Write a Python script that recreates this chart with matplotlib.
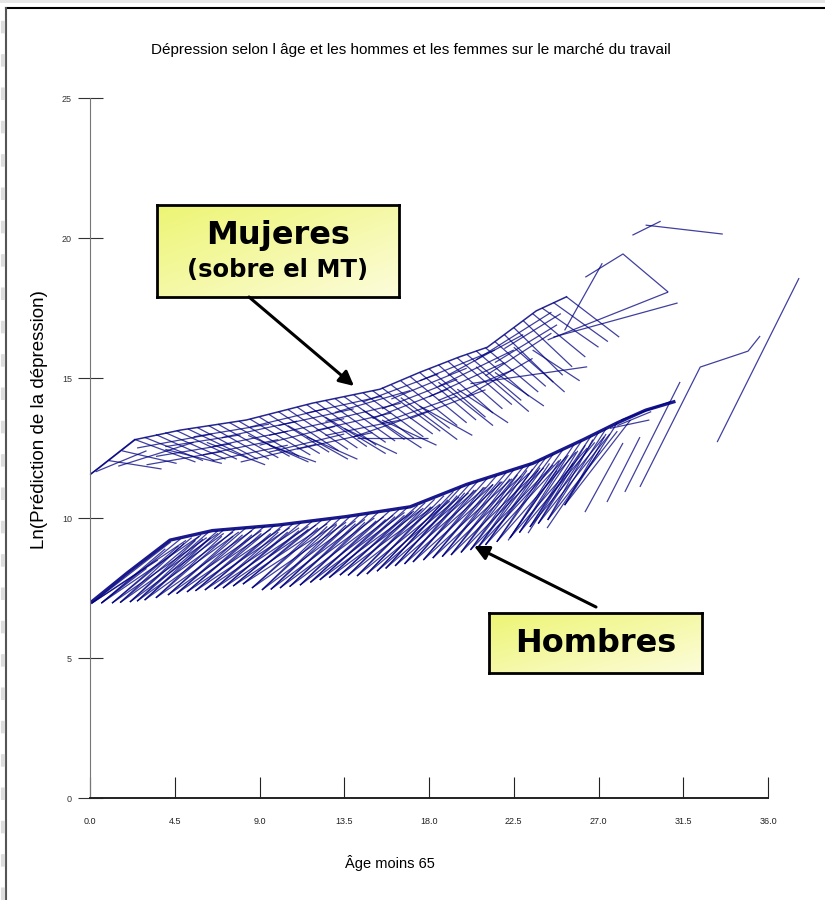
import numpy as np
import matplotlib
matplotlib.use('Agg')
import matplotlib.pyplot as plt
from matplotlib.lines import Line2D
from matplotlib.patches import FancyArrowPatch, Rectangle

# axis ticks
x_ticks = [0.0, 4.5, 9.0, 13.5, 18.0, 22.5, 27.0, 31.5, 36.0]
y_ticks = [0, 5, 10, 15, 20, 25]

# Hombres: segments from a low point up to the upper envelope
h_age0 = [0.1, 0.1, 0.1, 1.17, 1.17, 1.17, 2.12, 2.12, 2.12, 2.9, 2.9, 2.9,
          4.14, 4.14, 4.14, 5.15, 5.15, 5.15, 6.1, 6.1, 6.1, 7.06, 7.06, 7.06,
          8.12, 8.12, 8.12, 9.13, 9.13, 9.13, 10.09, 10.09, 10.09, 11.15, 11.15, 11.15,
          12.2, 12.2, 12.2, 13.27, 13.27, 13.27, 14.18, 14.18, 14.18, 15.24, 15.24, 15.24,
          16.2, 16.2, 16.2, 17.15, 17.15, 17.15, 18.2, 18.2, 18.2, 19.17, 19.17, 19.17,
          20.2, 20.2, 20.2, 21.0, 21.0, 21.0, 22.3, 22.3, 22.3, 23.36, 23.36, 23.36,
          24.3, 24.3, 24.3, 25.2, 25.2, 25.2,
          26.28, 27.45, 28.4, 24.27, 23.26, 22.2, 28.2, 28.0, 27.6,
          0.6, 0.6, 0.6, 0.6, 1.6, 1.6, 1.6, 2.5, 2.5, 2.5, 3.5, 3.5, 3.5,
          4.6, 4.6, 4.6, 5.6, 5.6, 5.6, 6.6, 6.6, 6.6, 7.6, 7.6, 7.6,
          8.6, 8.6, 8.6, 9.6, 9.6, 9.6, 10.6, 10.6, 10.6, 11.7, 11.7, 11.7,
          12.7, 12.7, 12.7, 13.7, 13.7, 13.7, 14.7, 14.7, 14.7, 15.7, 15.7, 15.7,
          16.7, 16.7, 16.7, 17.7, 17.7, 17.7, 18.7, 18.7, 18.7, 19.7, 19.7, 19.7,
          20.6, 20.6, 20.6, 21.6, 21.6, 21.6, 22.8, 22.8, 22.8, 23.8, 23.8, 23.8]
h_dep0 = [6.96, 6.96, 6.96, 6.96, 6.96, 6.96, 7.0, 7.0, 7.0, 7.07, 7.07, 7.07,
          7.25, 7.25, 7.25, 7.36, 7.36, 7.36, 7.43, 7.43, 7.43, 7.5, 7.5, 7.5,
          7.64, 7.64, 7.64, 7.43, 7.43, 7.43, 7.5, 7.5, 7.5, 7.6, 7.6, 7.6,
          7.79, 7.79, 7.79, 7.96, 7.96, 7.96, 7.93, 7.93, 7.93, 8.1, 8.1, 8.1,
          8.29, 8.29, 8.29, 8.43, 8.43, 8.43, 8.57, 8.57, 8.57, 8.68, 8.68, 8.68,
          8.86, 8.86, 8.86, 9.04, 9.04, 9.04, 9.29, 9.29, 9.29, 9.68, 9.68, 9.68,
          9.93, 9.93, 9.93, 10.46, 10.46, 10.46,
          10.21, 10.57, 10.93, 9.64, 9.46, 9.2, 13.5, 13.3, 13.2,
          6.96, 6.96, 6.96, 6.96, 6.98, 6.98, 6.98, 7.03, 7.03, 7.03, 7.15, 7.15, 7.15,
          7.3, 7.3, 7.3, 7.4, 7.4, 7.4, 7.47, 7.47, 7.47, 7.57, 7.57, 7.57,
          7.5, 7.5, 7.5, 7.45, 7.45, 7.45, 7.55, 7.55, 7.55, 7.7, 7.7, 7.7,
          7.87, 7.87, 7.87, 7.95, 7.95, 7.95, 8.0, 8.0, 8.0, 8.2, 8.2, 8.2,
          8.36, 8.36, 8.36, 8.5, 8.5, 8.5, 8.62, 8.62, 8.62, 8.77, 8.77, 8.77,
          8.95, 8.95, 8.95, 9.15, 9.15, 9.15, 9.48, 9.48, 9.48, 9.8, 9.8, 9.8]
h_age1 = [3.6, 4.3, 5.1, 4.7, 5.4, 6.2, 5.6, 6.3, 7.1, 6.4, 7.1, 7.9,
          7.6, 8.3, 9.1, 8.6, 9.3, 10.1, 9.6, 10.3, 11.1, 10.5, 11.2, 12.0,
          11.6, 12.3, 13.1, 12.6, 13.3, 14.1, 13.6, 14.3, 15.1, 14.6, 15.3, 16.1,
          15.7, 16.4, 17.2, 16.7, 17.4, 18.2, 17.6, 18.3, 19.1, 18.6, 19.3, 20.1,
          19.5, 20.2, 21.0, 20.4, 21.1, 21.9, 21.4, 22.1, 22.9, 22.3, 23.0, 23.8,
          23.2, 23.9, 24.6, 23.9, 24.6, 25.3, 25.0, 25.7, 26.4, 25.9, 26.6, 27.3,
          26.7, 27.4, 28.0, 27.4, 28.0, 28.7,
          28.3, 29.2, 31.33, 27.08, 25.65, 24.8, 30.8, 29.8, 29.7,
          4.0, 4.8, 5.8, 3.0, 5.0, 5.9, 6.8, 6.0, 6.8, 7.6, 7.0, 7.7, 8.6,
          8.1, 8.8, 9.6, 9.1, 9.8, 10.6, 10.0, 10.8, 11.6, 11.1, 11.8, 12.6,
          12.1, 12.8, 13.6, 13.1, 13.8, 14.6, 14.1, 14.8, 15.6, 15.2, 15.9, 16.7,
          16.2, 16.9, 17.7, 17.1, 17.8, 18.6, 18.1, 18.8, 19.6, 19.0, 19.7, 20.5,
          19.9, 20.6, 21.4, 20.9, 21.6, 22.4, 21.8, 22.5, 23.3, 22.7, 23.4, 24.1,
          23.5, 24.2, 24.9, 24.4, 25.1, 25.8, 25.4, 26.1, 26.8, 26.3, 27.0, 27.6]
h_dep1 = [8.5, 9.15, 9.2, 9.0, 9.3, 9.3, 9.2, 9.5, 9.45, 9.3, 9.58, 9.5,
          9.35, 9.66, 9.55, 9.4, 9.72, 9.6, 9.45, 9.77, 9.65, 9.5, 9.83, 9.75,
          9.6, 9.92, 9.8, 9.7, 10.0, 9.9, 9.75, 10.1, 10.0, 9.85, 10.2, 10.1,
          9.95, 10.3, 10.25, 10.1, 10.45, 10.4, 10.3, 10.67, 10.6, 10.45, 10.95, 10.9,
          10.8, 11.24, 11.1, 11.0, 11.42, 11.3, 11.2, 11.62, 11.5, 11.4, 11.82, 11.7,
          11.7, 12.07, 11.9, 11.8, 12.28, 12.2, 12.1, 12.62, 12.5, 12.4, 12.92, 12.9,
          12.8, 13.19, 13.1, 13.0, 13.4, 13.5,
          12.68, 12.89, 14.86, 12.43, 11.96, 11.7, 14.15, 13.8, 13.5,
          8.9, 9.25, 9.35, 8.2, 9.1, 9.4, 9.45, 9.25, 9.55, 9.5, 9.35, 9.6, 9.55,
          9.4, 9.68, 9.6, 9.45, 9.74, 9.65, 9.5, 9.8, 9.7, 9.55, 9.88, 9.8,
          9.65, 9.95, 9.85, 9.75, 10.05, 9.95, 9.8, 10.15, 10.05, 9.9, 10.25, 10.2,
          10.05, 10.4, 10.35, 10.2, 10.55, 10.5, 10.4, 10.8, 10.75, 10.65, 11.1, 11.0,
          10.9, 11.32, 11.2, 11.1, 11.52, 11.4, 11.3, 11.72, 11.6, 11.55, 11.95, 11.8,
          11.75, 12.15, 12.05, 11.95, 12.43, 12.35, 12.25, 12.75, 12.7, 12.6, 13.05, 13.0]

# Hombres: upper envelope and the long trajectories on the right
h_top_age = [0.0, 2.0, 4.25, 6.5, 10.0, 13.6, 17.0, 20.0, 23.5, 26.2, 28.0, 29.5, 31.0]
h_top_dep = [6.96, 8.05, 9.21, 9.55, 9.75, 10.05, 10.4, 11.2, 11.95, 12.8, 13.4, 13.85, 14.15]
h_long1_age = [29.2, 32.4, 34.94, 35.58]
h_long1_dep = [11.11, 15.39, 15.96, 16.5]
h_long2_age = [33.3, 37.65]
h_long2_dep = [12.71, 18.57]

# Mujeres: segments falling from the envelope
m_down_age0 = [1.0, 2.4, 3.5, 4.6, 5.7, 6.8, 7.9, 9.0, 10.0, 11.0, 12.0, 13.0,
               14.0, 15.0, 16.0, 17.0, 18.0, 19.0, 20.0, 21.0, 22.0, 23.0, 24.0, 25.3,
               4.0, 6.2, 8.4, 10.5, 12.5, 14.5, 16.5, 18.5, 20.5, 22.5,
               1.7, 2.9, 4.0, 5.2, 6.3, 7.4, 8.5, 9.5, 10.5, 11.5, 12.5, 13.5,
               14.5, 15.5, 16.5, 17.5, 18.5, 19.5, 20.5, 21.5, 22.5, 23.5, 24.6,
               9.5, 11.5, 13.5, 15.5, 17.5, 19.5, 21.5, 23.5]
m_down_dep0 = [12.05, 12.8, 12.98, 13.12, 13.23, 13.35, 13.46, 13.6, 13.8, 13.96, 14.13, 14.27,
               14.4, 14.55, 14.75, 15.05, 15.33, 15.6, 15.85, 16.08, 16.55, 17.05, 17.5, 17.9,
               12.45, 12.7, 12.95, 13.3, 13.6, 13.85, 14.3, 14.85, 15.4, 16.1,
               12.4, 12.88, 13.05, 13.18, 13.3, 13.41, 13.53, 13.7, 13.88, 14.05, 14.2, 14.33,
               14.47, 14.65, 14.9, 15.2, 15.47, 15.72, 15.97, 16.3, 16.8, 17.3, 17.7,
               12.6, 12.9, 13.2, 13.5, 14.0, 14.6, 15.2, 16.0]
m_down_age1 = [3.8, 5.6, 6.6, 7.8, 8.9, 10.0, 11.1, 12.2, 13.2, 14.2, 15.2, 16.2,
               17.2, 18.2, 19.1, 20.0, 21.0, 21.9, 22.9, 23.8, 24.6, 25.6, 27.0, 28.1,
               7.0, 9.3, 11.6, 13.7, 15.7, 17.6, 19.5, 21.4, 23.3, 25.2,
               4.6, 6.0, 7.2, 8.4, 9.5, 10.6, 11.7, 12.7, 13.7, 14.7, 15.7, 16.7,
               17.7, 18.6, 19.5, 20.5, 21.4, 22.4, 23.3, 24.2, 25.1, 26.3, 27.5,
               12.0, 14.2, 16.3, 18.4, 20.3, 22.2, 24.1, 26.0]
m_down_dep1 = [11.75, 12.0, 12.05, 12.1, 12.1, 12.15, 12.2, 12.3, 12.4, 12.5, 12.6, 12.75,
               12.85, 13.0, 13.2, 13.4, 13.6, 13.9, 14.2, 14.5, 14.85, 15.4, 16.1, 16.46,
               11.95, 11.9, 12.0, 12.1, 12.3, 12.5, 12.8, 13.3, 13.8, 14.5,
               11.95, 12.05, 12.1, 12.15, 12.1, 12.2, 12.25, 12.35, 12.45, 12.55, 12.7, 12.8,
               12.9, 13.1, 13.3, 13.5, 13.75, 14.05, 14.35, 14.7, 15.1, 15.75, 16.3,
               12.0, 12.1, 12.3, 12.6, 12.95, 13.4, 14.0, 14.9]

# Mujeres: rising segments (lattice, long ones and outliers)
m_up_age0 = [0.0, 0.3, 1.5, 4.0, 7.0, 10.0, 13.0, 16.0, 19.0, 22.0,
             3.0, 6.0, 9.0, 12.0, 15.0, 18.0, 21.0,
             8.0, 11.0, 14.0, 17.0, 20.0,
             20.2, 24.3, 24.6, 25.2, 28.8, 29.5, 14.2,
             2.5, 5.5, 8.5, 11.5, 14.5, 17.5, 20.5,
             3.5, 6.5, 9.5, 12.5, 15.5, 18.5, 21.5,
             6.5, 9.5, 12.5, 15.5, 18.5]
m_up_dep0 = [11.55, 11.65, 11.85, 12.55, 12.87, 13.3, 13.77, 14.25, 15.1, 16.05,
             11.9, 12.26, 12.6, 13.13, 13.55, 14.33, 15.08,
             12.0, 12.46, 12.9, 13.55, 14.35,
             14.8, 16.36, 16.46, 16.7, 20.1, 20.46, 12.86,
             12.5, 12.9, 13.25, 13.75, 14.15, 14.9, 15.65,
             12.2, 12.55, 12.95, 13.45, 13.9, 14.7, 15.55,
             12.05, 12.35, 12.95, 13.4, 14.2]
m_up_age1 = [2.4, 3.0, 5.5, 8.0, 11.0, 14.0, 17.0, 20.0, 23.0, 25.0,
             7.0, 10.0, 13.0, 16.0, 19.0, 22.0, 24.5,
             12.0, 15.0, 18.0, 21.0, 23.5,
             26.4, 30.7, 31.2, 27.2, 30.3, 33.6, 17.95,
             6.5, 9.5, 12.5, 15.5, 18.5, 21.5, 24.5,
             7.5, 10.5, 13.5, 16.5, 19.5, 22.5, 24.8,
             10.5, 13.5, 16.5, 19.5, 22.5]
m_up_dep1 = [12.82, 12.4, 12.7, 12.97, 13.46, 13.9, 14.55, 15.35, 16.55, 17.3,
             12.37, 12.8, 13.27, 13.75, 14.6, 15.55, 16.6,
             12.63, 13.05, 13.83, 14.58, 15.7,
             15.4, 18.07, 17.68, 19.1, 20.6, 20.14, 12.86,
             13.0, 13.35, 13.9, 14.35, 15.15, 16.0, 17.35,
             12.65, 13.1, 13.55, 14.1, 14.95, 16.0, 16.9,
             12.6, 13.0, 13.5, 14.35, 15.3]

m_top_age = [0.0, 0.5, 2.4, 4.8, 8.3, 11.8, 15.4, 17.5, 19.6, 21.1, 22.1, 23.7, 25.3]
m_top_dep = [11.55, 11.8, 12.8, 13.14, 13.5, 14.1, 14.6, 15.2, 15.75, 16.1, 16.6, 17.4, 17.9]
m_peak_age = [26.3, 28.3, 30.7]
m_peak_dep = [18.6, 19.43, 18.07]

arial = ['Liberation Sans', 'DejaVu Sans']
line_col = '#000080'

fig = plt.figure(figsize=(8.25, 9), dpi=100)
ax = fig.add_axes([90 / 825, 1 - 798 / 900, 678 / 825, 700 / 900])

seg_kw = dict(color=line_col, lw=0.9, alpha=0.75, clip_on=False, solid_capstyle='butt')
for a0, d0, a1, d1 in zip(h_age0, h_dep0, h_age1, h_dep1):
    ax.plot([a0, a1], [d0, d1], **seg_kw)
for a0, d0, a1, d1 in zip(m_down_age0, m_down_dep0, m_down_age1, m_down_dep1):
    ax.plot([a0, a1], [d0, d1], **seg_kw)
for a0, d0, a1, d1 in zip(m_up_age0, m_up_dep0, m_up_age1, m_up_dep1):
    ax.plot([a0, a1], [d0, d1], **seg_kw)
ax.plot(h_top_age, h_top_dep, color=line_col, lw=2.4, alpha=0.9)
ax.plot(m_top_age, m_top_dep, color=line_col, lw=1.1, alpha=0.85)
ax.plot(h_long1_age, h_long1_dep, **seg_kw)
ax.plot(h_long2_age, h_long2_dep, **seg_kw)
ax.plot(m_peak_age, m_peak_dep, **seg_kw)

ax.set_xlim(0, 36)
ax.set_ylim(0, 25)
ax.set_xticks(x_ticks)
ax.set_xticklabels([f'{t:.1f}' for t in x_ticks], family=arial, fontsize=6.5)
ax.set_yticks(y_ticks)
ax.set_yticklabels([str(t) for t in y_ticks], family=arial, fontsize=6.5)
ax.tick_params(axis='x', direction='in', length=15, width=0.8, pad=14, colors='#222222')
ax.tick_params(axis='y', direction='inout', length=18, width=0.8, pad=4, colors='#333333')
for s in ['top', 'right']:
    ax.spines[s].set_visible(False)
ax.spines['left'].set_color('#777777')
ax.spines['bottom'].set_color('#222222')
ax.spines['bottom'].set_linewidth(1.4)
ax.patch.set_alpha(0)

fig.text(411 / 825, 1 - 50 / 900, "Dépression selon l âge et les hommes et les femmes sur le marché du travail",
         ha='center', va='center', family=arial, fontsize=11)
fig.text(390 / 825, 1 - 863 / 900, 'Âge moins 65', ha='center', va='center',
         family=arial, fontsize=10.5)
fig.text(40 / 825, 1 - 420 / 900, 'Ln(Prédiction de la dépression)', ha='center', va='center',
         rotation=90, family=arial, fontsize=13.5)

# yellow label boxes with a soft gradient
grad = np.linspace(0, 1, 200)
gx, gy = np.meshgrid(grad, grad)
g = (gx + gy) / 2
c0 = np.array([0.93, 0.96, 0.45])
c1 = np.array([0.99, 0.99, 0.86])
img = c0 + (c1 - c0) * g[..., None]


def label_box(px0, py0, px1, py1):
    bx = fig.add_axes([px0 / 825, 1 - py1 / 900, (px1 - px0) / 825, (py1 - py0) / 900])
    bx.imshow(img, aspect='auto', extent=[0, 1, 0, 1], origin='upper')
    bx.set_xticks([])
    bx.set_yticks([])
    for s in bx.spines.values():
        s.set_linewidth(2)
        s.set_color('black')
    return bx


mb = label_box(157, 205, 399, 297)
mb.text(0.5, 0.67, 'Mujeres', ha='center', va='center', fontsize=23, fontweight='bold',
        transform=mb.transAxes)
mb.text(0.5, 0.29, '(sobre el MT)', ha='center', va='center', fontsize=17.5, fontweight='bold',
        transform=mb.transAxes)
hb = label_box(489, 613, 702, 673)
hb.text(0.5, 0.5, 'Hombres', ha='center', va='center', fontsize=23, fontweight='bold',
        transform=hb.transAxes)

arrow = dict(arrowstyle='-|>', color='black', lw=2.2, mutation_scale=22, shrinkA=0, shrinkB=0)
fig.add_artist(FancyArrowPatch((249 / 825, 1 - 297 / 900), (354 / 825, 1 - 386 / 900),
                               transform=fig.transFigure, **arrow))
fig.add_artist(FancyArrowPatch((596 / 825, 1 - 607 / 900), (474 / 825, 1 - 546 / 900),
                               transform=fig.transFigure, **arrow))

# window frame
fig.add_artist(Rectangle((0, 1 - 3 / 900), 1, 3 / 900, transform=fig.transFigure,
                         color='#e6e6e6', lw=0))
fig.add_artist(Line2D([6 / 825, 1], [1 - 8 / 900, 1 - 8 / 900], transform=fig.transFigure,
                      color='black', lw=1.5))
fig.add_artist(Line2D([6 / 825, 6 / 825], [0, 1 - 8 / 900], transform=fig.transFigure,
                      color='#555555', lw=1.5))
fig.add_artist(Line2D([2.5 / 825, 2.5 / 825], [0, 1 - 8 / 900], transform=fig.transFigure,
                      color='#dddddd', lw=3, dashes=(3, 5)))

fig.savefig('out.png', dpi=100)
